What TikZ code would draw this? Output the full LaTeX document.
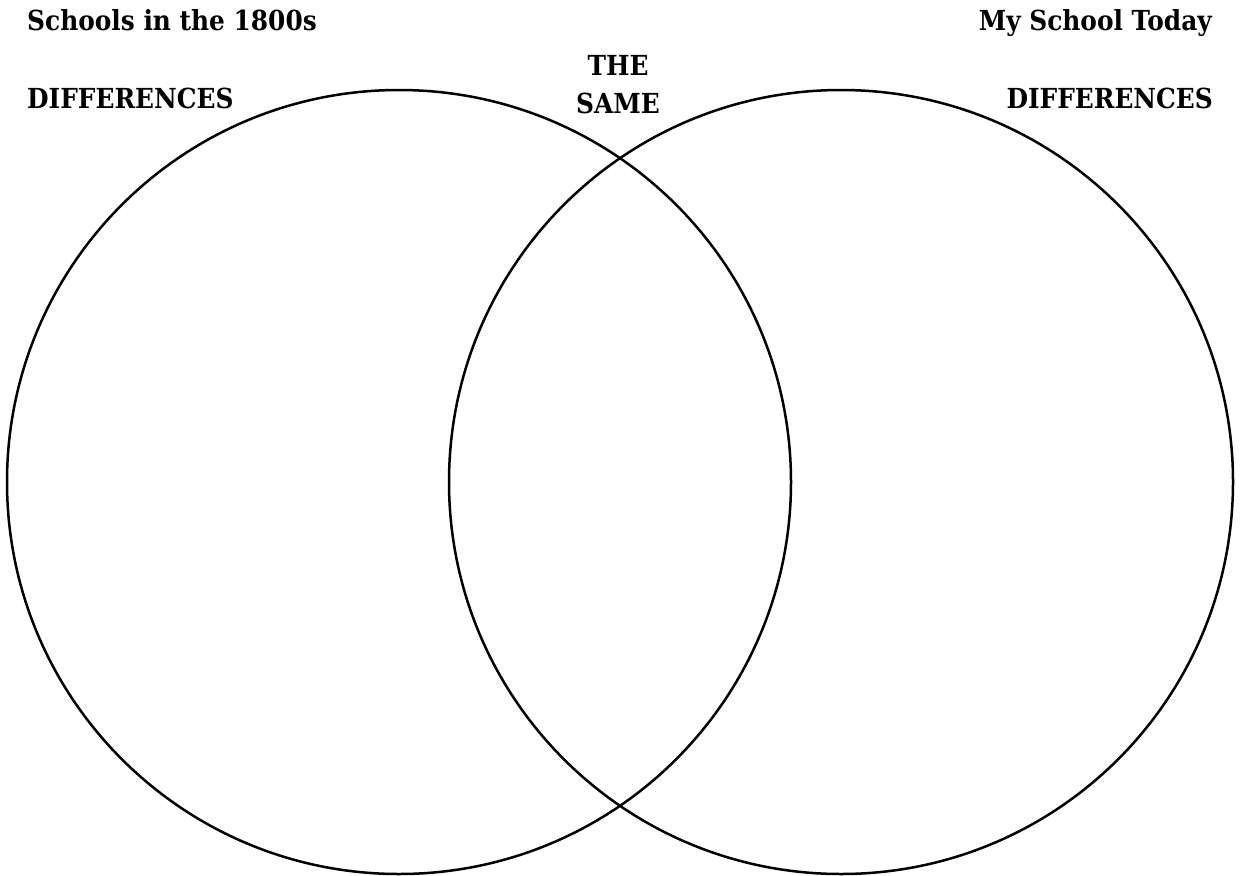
\documentclass[tikz,border=0pt]{standalone}
\usepackage{fontspec}
\setmainfont{DejaVu Serif}[FakeStretch=0.9]
\usetikzlibrary{positioning}

\begin{document}
\begin{tikzpicture}[
    x=1pt, y=-1pt,
    venn/.style={circle, draw, line width=2.5pt, minimum size=784pt, inner sep=0pt},
    heading/.style={font=\bfseries\fontsize{27.6}{33}\selectfont, inner sep=0pt}
]
\useasboundingbox (0,0) rectangle (1241,875);

% the two circles
\node[venn] (old) at (399,482) {};
\node[venn] (today) at (841,482) {};

% titles
\node[heading, anchor=base west] (oldtitle) at (27,31) {Schools in the 1800s};
\node[heading, anchor=base east] (todaytitle) at (1212,31) {My School Today};

\node[heading, anchor=base west] (olddiff) at (27,108) {DIFFERENCES};
\node[heading, anchor=base east] (todaydiff) at (1213,108) {DIFFERENCES};

\node[heading, anchor=base] (the) at (618,75) {THE};
\node[heading, anchor=base] (same) at (618,113) {SAME};
\end{tikzpicture}
\end{document}
